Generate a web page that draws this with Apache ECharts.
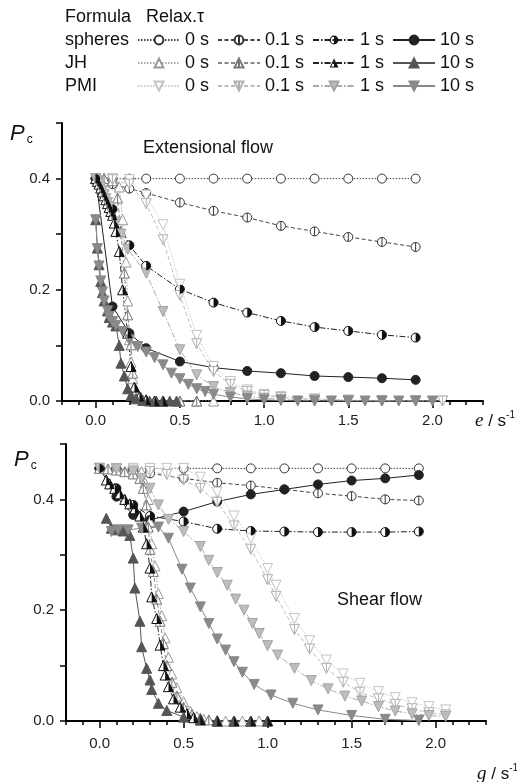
<!DOCTYPE html>
<html>
<head>
<meta charset="utf-8">
<title>Pc vs strain rate</title>
<script src="https://cdn.jsdelivr.net/npm/echarts@6.0.0/dist/echarts.min.js"></script>
<style>
  html, body { margin: 0; padding: 0; background: #fff; }
  #chart { width: 517px; height: 782px; }
</style>
</head>
<body>
<div id="chart"></div>
<script>
// ---- data ----
const formulas = ['spheres', 'JH', 'PMI']
const taus = ['0 s', '0.1 s', '1 s', '10 s']
const xLabels = [0, 0.5, 1.0, 1.5, 2.0]
const yLabels = [0, 0.2, 0.4]

const sphX = [0, 0.1, 0.2, 0.3, 0.5, 0.7, 0.9, 1.1, 1.3, 1.5, 1.7, 1.9]

// extensional flow
const extSph0 = [0.4, 0.4, 0.4, 0.4, 0.4, 0.4, 0.4, 0.4, 0.4, 0.4, 0.4, 0.4]
const extSph01 = [0.4, 0.39, 0.382, 0.374, 0.357, 0.342, 0.33, 0.315, 0.305, 0.295, 0.286, 0.277]
const extSph1 = [0.4, 0.345, 0.28, 0.243, 0.201, 0.177, 0.159, 0.144, 0.133, 0.126, 0.119, 0.114]
const extSph10 = [0.4, 0.17, 0.122, 0.095, 0.071, 0.06, 0.054, 0.05, 0.045, 0.043, 0.041, 0.038]

const extJH0 = [[0, 0.4], [0.05, 0.4], [0.1, 0.4], [0.14, 0.385], [0.16, 0.326], [0.18, 0.25], [0.19, 0.18], [0.2, 0.11], [0.21, 0.07], [0.22, 0.04], [0.24, 0.015], [0.27, 0.005], [0.3, 0.002], [0.35, 0], [0.4, 0], [0.5, 0], [0.6, 0], [0.7, 0]]
const extJH01 = [[0, 0.4], [0.05, 0.4], [0.1, 0.396], [0.13, 0.365], [0.15, 0.305], [0.17, 0.23], [0.19, 0.155], [0.21, 0.101], [0.22, 0.05], [0.24, 0.02], [0.27, 0.006], [0.3, 0.002], [0.35, 0], [0.4, 0], [0.5, 0], [0.6, 0]]
const extJH1 = [[0, 0.4], [0.01, 0.395], [0.02, 0.39], [0.03, 0.383], [0.04, 0.376], [0.05, 0.369], [0.06, 0.362], [0.07, 0.355], [0.08, 0.348], [0.09, 0.341], [0.1, 0.334], [0.11, 0.32], [0.12, 0.305], [0.14, 0.269], [0.16, 0.2], [0.19, 0.122], [0.21, 0.062], [0.23, 0.025], [0.26, 0.008], [0.3, 0.002], [0.35, 0], [0.4, 0]]
const extJH10 = [[0, 0.326], [0.01, 0.275], [0.02, 0.245], [0.03, 0.215], [0.04, 0.195], [0.05, 0.18], [0.07, 0.162], [0.08, 0.15], [0.1, 0.142], [0.12, 0.135], [0.14, 0.1], [0.15, 0.068], [0.17, 0.045], [0.19, 0.022], [0.21, 0.01], [0.24, 0.004], [0.28, 0.001], [0.32, 0], [0.36, 0], [0.4, 0], [0.44, 0], [0.48, 0]]

const extPMI0 = [[0, 0.4], [0.1, 0.4], [0.2, 0.398], [0.3, 0.37], [0.4, 0.317], [0.5, 0.21], [0.6, 0.118], [0.7, 0.062], [0.8, 0.035], [0.9, 0.02], [1.0, 0.012], [1.1, 0.008], [1.3, 0.004], [1.5, 0.002], [1.7, 0.001], [1.9, 0], [2.06, 0]]
const extPMI01 = [[0, 0.4], [0.1, 0.398], [0.2, 0.39], [0.3, 0.355], [0.4, 0.29], [0.5, 0.19], [0.6, 0.103], [0.7, 0.053], [0.8, 0.03], [0.9, 0.017], [1.0, 0.01], [1.1, 0.006], [1.3, 0.003], [1.5, 0.001], [1.7, 0], [1.9, 0], [2.06, 0]]
const extPMI1 = [[0, 0.4], [0.01, 0.396], [0.02, 0.391], [0.03, 0.385], [0.04, 0.378], [0.05, 0.371], [0.06, 0.364], [0.07, 0.357], [0.08, 0.35], [0.09, 0.343], [0.1, 0.336], [0.12, 0.322], [0.15, 0.3], [0.19, 0.273], [0.3, 0.23], [0.4, 0.161], [0.5, 0.092], [0.6, 0.047], [0.7, 0.026], [0.8, 0.015], [0.9, 0.009], [1.0, 0.005], [1.1, 0.003], [1.3, 0.001], [1.5, 0], [1.7, 0], [1.9, 0]]
const extPMI10 = [[0, 0.326], [0.01, 0.274], [0.02, 0.243], [0.03, 0.216], [0.04, 0.196], [0.05, 0.18], [0.07, 0.162], [0.08, 0.152], [0.1, 0.143], [0.12, 0.136], [0.16, 0.125], [0.2, 0.11], [0.25, 0.098], [0.3, 0.088], [0.35, 0.078], [0.4, 0.065], [0.45, 0.05], [0.5, 0.04], [0.55, 0.03], [0.6, 0.022], [0.65, 0.017], [0.7, 0.012], [0.8, 0.007], [0.9, 0.004], [1.0, 0.002], [1.1, 0.001], [1.2, 0], [1.3, 0], [1.4, 0], [1.5, 0], [1.6, 0], [1.7, 0], [1.8, 0], [1.9, 0], [2.0, 0]]

// shear flow
const shSph0 = [0.456, 0.456, 0.456, 0.456, 0.456, 0.456, 0.456, 0.456, 0.456, 0.456, 0.456, 0.456]
const shSph01 = [0.456, 0.455, 0.452, 0.447, 0.438, 0.43, 0.425, 0.418, 0.411, 0.406, 0.4, 0.398]
const shSph1 = [0.456, 0.42, 0.39, 0.37, 0.36, 0.347, 0.343, 0.342, 0.341, 0.341, 0.341, 0.342]
const shSph10 = [0.456, 0.405, 0.372, 0.363, 0.378, 0.396, 0.409, 0.418, 0.427, 0.434, 0.438, 0.444]

const shJH0 = [[0, 0.456], [0.1, 0.456], [0.2, 0.455], [0.25, 0.45], [0.27, 0.43], [0.29, 0.4], [0.3, 0.36], [0.31, 0.32], [0.33, 0.28], [0.35, 0.23], [0.37, 0.19], [0.39, 0.15], [0.41, 0.115], [0.43, 0.085], [0.46, 0.06], [0.5, 0.035], [0.54, 0.018], [0.58, 0.008], [0.62, 0.003], [0.7, 0.001], [0.75, 0], [0.85, 0], [0.95, 0]]
const shJH01 = [[0, 0.456], [0.05, 0.455], [0.1, 0.453], [0.15, 0.45], [0.2, 0.446], [0.24, 0.438], [0.26, 0.42], [0.28, 0.39], [0.29, 0.35], [0.3, 0.31], [0.32, 0.27], [0.34, 0.22], [0.36, 0.18], [0.38, 0.14], [0.4, 0.1], [0.43, 0.07], [0.46, 0.045], [0.5, 0.025], [0.55, 0.012], [0.6, 0.005], [0.65, 0.002], [0.7, 0], [0.8, 0], [0.9, 0]]
const shJH1 = [[0.04, 0.435], [0.06, 0.428], [0.09, 0.42], [0.12, 0.41], [0.15, 0.4], [0.18, 0.392], [0.21, 0.383], [0.24, 0.37], [0.26, 0.35], [0.28, 0.32], [0.3, 0.276], [0.31, 0.224], [0.34, 0.185], [0.36, 0.137], [0.38, 0.1], [0.39, 0.083], [0.41, 0.062], [0.44, 0.04], [0.48, 0.025], [0.52, 0.013], [0.56, 0.006], [0.6, 0.002], [0.7, 0], [0.8, 0], [0.9, 0], [1.0, 0]]
const shJH10 = [[0.04, 0.366], [0.07, 0.348], [0.1, 0.345], [0.14, 0.343], [0.18, 0.335], [0.2, 0.294], [0.21, 0.24], [0.24, 0.18], [0.25, 0.134], [0.28, 0.095], [0.3, 0.074], [0.31, 0.057], [0.35, 0.032], [0.4, 0.019], [0.5, 0.007], [0.6, 0.002], [0.7, 0], [0.8, 0], [0.9, 0], [1.0, 0]]

const shPMI0 = [[0, 0.456], [0.1, 0.456], [0.2, 0.456], [0.3, 0.456], [0.4, 0.456], [0.5, 0.456], [0.6, 0.44], [0.7, 0.413], [0.8, 0.37], [0.9, 0.33], [1.0, 0.275], [1.05, 0.245], [1.16, 0.185], [1.25, 0.145], [1.35, 0.11], [1.45, 0.085], [1.55, 0.068], [1.66, 0.053], [1.76, 0.042], [1.86, 0.033], [1.96, 0.026], [2.06, 0.02]]
const shPMI01 = [[0, 0.456], [0.1, 0.455], [0.2, 0.453], [0.3, 0.45], [0.4, 0.445], [0.5, 0.435], [0.6, 0.42], [0.7, 0.395], [0.8, 0.352], [0.9, 0.31], [1.0, 0.255], [1.05, 0.225], [1.16, 0.165], [1.25, 0.13], [1.35, 0.095], [1.45, 0.07], [1.55, 0.052], [1.66, 0.04], [1.76, 0.03], [1.86, 0.022], [1.96, 0.015], [2.06, 0.011]]
const shPMI1 = [[0, 0.456], [0.1, 0.455], [0.2, 0.45], [0.25, 0.438], [0.3, 0.42], [0.35, 0.39], [0.41, 0.364], [0.5, 0.342], [0.6, 0.315], [0.65, 0.29], [0.7, 0.268], [0.76, 0.245], [0.81, 0.22], [0.86, 0.2], [0.91, 0.176], [0.95, 0.158], [1.0, 0.136], [1.06, 0.119], [1.16, 0.095], [1.26, 0.073], [1.36, 0.058], [1.46, 0.045], [1.56, 0.036], [1.66, 0.026], [1.76, 0.018], [1.86, 0.013], [1.96, 0.01], [2.06, 0.008]]
const shPMI10 = [[0.07, 0.342], [0.11, 0.345], [0.17, 0.345], [0.25, 0.348], [0.35, 0.35], [0.41, 0.33], [0.49, 0.274], [0.54, 0.24], [0.6, 0.206], [0.65, 0.176], [0.7, 0.148], [0.75, 0.128], [0.8, 0.107], [0.85, 0.088], [0.92, 0.066], [1.02, 0.047], [1.15, 0.032], [1.3, 0.02], [1.5, 0.01], [1.7, 0.003], [1.9, 0.001]]

const zip = (xs, ys) => xs.map((x, i) => [x, ys[i]])

const extData = {
  'spheres 0 s': zip(sphX, extSph0), 'spheres 0.1 s': zip(sphX, extSph01),
  'spheres 1 s': zip(sphX, extSph1), 'spheres 10 s': zip(sphX, extSph10),
  'JH 0 s': extJH0, 'JH 0.1 s': extJH01, 'JH 1 s': extJH1, 'JH 10 s': extJH10,
  'PMI 0 s': extPMI0, 'PMI 0.1 s': extPMI01, 'PMI 1 s': extPMI1, 'PMI 10 s': extPMI10
}
const shData = {
  'spheres 0 s': zip(sphX, shSph0), 'spheres 0.1 s': zip(sphX, shSph01),
  'spheres 1 s': zip(sphX, shSph1), 'spheres 10 s': zip(sphX, shSph10),
  'JH 0 s': shJH0, 'JH 0.1 s': shJH01, 'JH 1 s': shJH1, 'JH 10 s': shJH10,
  'PMI 0 s': shPMI0, 'PMI 0.1 s': shPMI01, 'PMI 1 s': shPMI1, 'PMI 10 s': shPMI10
}

// ---- styles ----
const SANS = 'Liberation Sans, Arial, sans-serif'
const SERIF = 'Liberation Serif, Times New Roman, serif'
const SYM = {
  circle: 'circle',
  circleBar: 'path://M5,0A5,5,0,1,1,5,10A5,5,0,1,1,5,0ZM5,0L5,10',
  up: 'triangle',
  upBar: 'path://M5,0L10,10L0,10ZM5,0L5,10',
  down: 'path://M0,0L10,0L5,10Z',
  downBar: 'path://M0,0L10,0L5,10ZM5,0L5,10',
  // right halves, drawn over the open marker
  halfDisc: 'path://M0,0A5,5,0,0,1,0,10Z',
  halfUp: 'path://M0,0L5,10L0,10Z',
  // one-colour versions for the legend (ring + right half)
  ringCircle: 'path://M5,0A5,5,0,1,1,5,10A5,5,0,1,1,5,0ZM5,1.2A3.8,3.8,0,1,0,5,8.8A3.8,3.8,0,1,0,5,1.2ZM5,1.2A3.8,3.8,0,0,1,5,8.8Z',
  ringUp: 'path://M5,0L10,10L0,10ZM5,2.46L1.78,8.9L8.22,8.9ZM5,2.46L8.22,8.9L5,8.9Z'
}
const DASH = { dot: [1.5, 1.5], dash: [4, 2.5], dashDot: [6, 2, 1.5, 2] }

const looks = {
  'spheres 0 s': { symbol: SYM.circle, size: 9, fill: '#fff', stroke: '#333', line: '#444', dash: DASH.dot },
  'spheres 0.1 s': { symbol: SYM.circleBar, size: 9, fill: '#fff', stroke: '#333', line: '#444', dash: DASH.dash },
  'spheres 1 s': { symbol: SYM.circle, size: 9, fill: '#fff', stroke: '#111', line: '#222', dash: DASH.dashDot, half: SYM.halfDisc, legendSymbol: SYM.ringCircle },
  'spheres 10 s': { symbol: SYM.circle, size: 9, fill: '#222', stroke: '#222', line: '#222', dash: 'solid' },
  'JH 0 s': { symbol: SYM.up, size: 10, fill: '#fff', stroke: '#999', line: '#aaa', dash: DASH.dot },
  'JH 0.1 s': { symbol: SYM.upBar, size: 10, fill: '#fff', stroke: '#777', line: '#888', dash: DASH.dash },
  'JH 1 s': { symbol: SYM.up, size: 10, fill: '#fff', stroke: '#111', line: '#222', dash: DASH.dashDot, half: SYM.halfUp, legendSymbol: SYM.ringUp },
  'JH 10 s': { symbol: SYM.up, size: 10, fill: '#555', stroke: '#555', line: '#555', dash: 'solid' },
  'PMI 0 s': { symbol: SYM.down, size: 10, fill: '#fff', stroke: '#c4c4c4', line: '#ccc', dash: DASH.dot },
  'PMI 0.1 s': { symbol: SYM.downBar, size: 10, fill: '#fff', stroke: '#b0b0b0', line: '#bbb', dash: DASH.dash },
  'PMI 1 s': { symbol: SYM.down, size: 10, fill: '#bdbdbd', stroke: '#a4a4a4', line: '#aaa', dash: DASH.dashDot },
  'PMI 10 s': { symbol: SYM.down, size: 10, fill: '#8a8a8a', stroke: '#888', line: '#888', dash: 'solid' }
}

const names = []
formulas.forEach(f => taus.forEach(t => names.push(f + ' ' + t)))

function plotSeries(prefix, axisIdx, dataMap) {
  const out = []
  names.forEach(name => {
    const lk = looks[name]
    out.push({
      type: 'line', name: prefix + name, xAxisIndex: axisIdx * 2, yAxisIndex: axisIdx,
      data: dataMap[name], symbol: lk.symbol, symbolSize: lk.size, showAllSymbol: true,
      itemStyle: { color: lk.fill, borderColor: lk.stroke, borderWidth: 1 },
      lineStyle: { color: lk.line, width: 1, type: lk.dash },
      silent: true, animation: false, z: 2
    })
    if (lk.half) {
      out.push({
        type: 'scatter', name: prefix + name + ' half', xAxisIndex: axisIdx * 2, yAxisIndex: axisIdx,
        data: dataMap[name], symbol: lk.half, symbolSize: [lk.size / 2, lk.size],
        symbolOffset: [lk.size / 4, 0], itemStyle: { color: lk.stroke, borderWidth: 0, opacity: 1 },
        silent: true, animation: false, z: 3
      })
    }
  })
  return out
}

// series with no data that only feed the legend
const legendSeries = names.map(name => {
  const lk = looks[name]
  const ring = !!lk.legendSymbol
  return {
    type: 'line', name: name, data: [], xAxisIndex: 0, yAxisIndex: 0,
    symbol: lk.legendSymbol || lk.symbol,
    itemStyle: { color: ring ? lk.stroke : lk.fill, borderColor: lk.stroke, borderWidth: ring ? 0 : 1 },
    lineStyle: { color: lk.line, width: 1, type: lk.dash }
  }
})

function xAxes(gridIndex, labelMargin) {
  return [{
    gridIndex, type: 'value', min: -0.2, max: 2.3, interval: 0.1, position: 'bottom',
    axisLine: { show: true, onZero: false, lineStyle: { color: '#000', width: 2 } },
    axisTick: { show: true, length: 4, lineStyle: { color: '#000', width: 1.5 } },
    axisLabel: { customValues: xLabels, formatter: v => v.toFixed(1), margin: labelMargin, fontSize: 15, color: '#222', fontFamily: SANS },
    splitLine: { show: false }
  }, {
    gridIndex, type: 'value', min: -0.2, max: 2.3, position: 'bottom',
    axisLine: { show: false },
    axisTick: { show: true, customValues: xLabels, length: 7, lineStyle: { color: '#000', width: 1.5 } },
    axisLabel: { show: false }, splitLine: { show: false }
  }]
}
function yAxis(gridIndex) {
  return {
    gridIndex, type: 'value', min: 0, max: 0.5, interval: 0.1,
    axisLine: { show: true, onZero: false, lineStyle: { color: '#000', width: 2 } },
    axisTick: { show: true, length: 6, lineStyle: { color: '#000', width: 1.5 } },
    axisLabel: { customValues: yLabels, formatter: v => v.toFixed(1), margin: 12, fontSize: 15, color: '#222', fontFamily: SANS },
    splitLine: { show: false }
  }
}

const legendRowTop = [31, 54, 77]
const legends = formulas.map((f, i) => ({
  left: 137, top: legendRowTop[i], padding: 0, orient: 'horizontal',
  itemWidth: 42, itemHeight: 11, itemGap: 8, selectedMode: false,
  data: taus.map(t => f + ' ' + t),
  formatter: name => name.slice(f.length + 1),
  textStyle: { fontSize: 18, color: '#111', fontFamily: SANS }
}))

const txt = (x, y, text, extra) => ({
  type: 'text', x, y, silent: true,
  style: Object.assign({ text, fill: '#111', font: '18px ' + SANS, verticalAlign: 'middle' }, extra || {})
})
const pcLabel = (x, y) => ({
  type: 'text', x, y, silent: true,
  style: {
    text: '{p|P}{c|c}', verticalAlign: 'middle',
    rich: {
      p: { fontSize: 22, fontStyle: 'italic', fontFamily: SANS, fill: '#111' },
      c: { fontSize: 12, fontFamily: SANS, fill: '#111', padding: [12, 0, 0, 2] }
    }
  }
})
const rateLabel = (x, y, sym) => ({
  type: 'text', x, y, silent: true,
  style: {
    text: '{v|' + sym + '}{t| / s}{e|-1}', verticalAlign: 'middle',
    rich: {
      v: { fontSize: 19, fontStyle: 'italic', fontFamily: SERIF, fill: '#111' },
      t: { fontSize: 17, fontFamily: SANS, fill: '#111' },
      e: { fontSize: 10, fontFamily: SANS, fill: '#111', padding: [0, 0, 12, 0] }
    }
  }
})

const chart = echarts.init(document.getElementById('chart'), null, { renderer: 'canvas' })
chart.setOption({
  animation: false,
  backgroundColor: '#fff',
  grid: [
    { left: 62, top: 123, right: 34, bottom: 381, outerBoundsMode: 'none' },
    { left: 66, top: 444, right: 31, bottom: 61, outerBoundsMode: 'none' }
  ],
  xAxis: xAxes(0, 12).concat(xAxes(1, 15)),
  yAxis: [yAxis(0), yAxis(1)],
  legend: legends,
  graphic: [
    txt(65, 17, 'Formula'),
    txt(146, 17, 'Relax.τ'),
    txt(65, 40, 'spheres'),
    txt(65, 63, 'JH'),
    txt(65, 86, 'PMI'),
    txt(143, 148, 'Extensional flow'),
    txt(337, 600, 'Shear flow'),
    pcLabel(10, 134),
    pcLabel(14, 460),
    rateLabel(475, 421, 'e'),
    rateLabel(477, 774, 'g')
  ],
  series: plotSeries('ext ', 0, extData).concat(plotSeries('sh ', 1, shData)).concat(legendSeries)
})
</script>
</body>
</html>
